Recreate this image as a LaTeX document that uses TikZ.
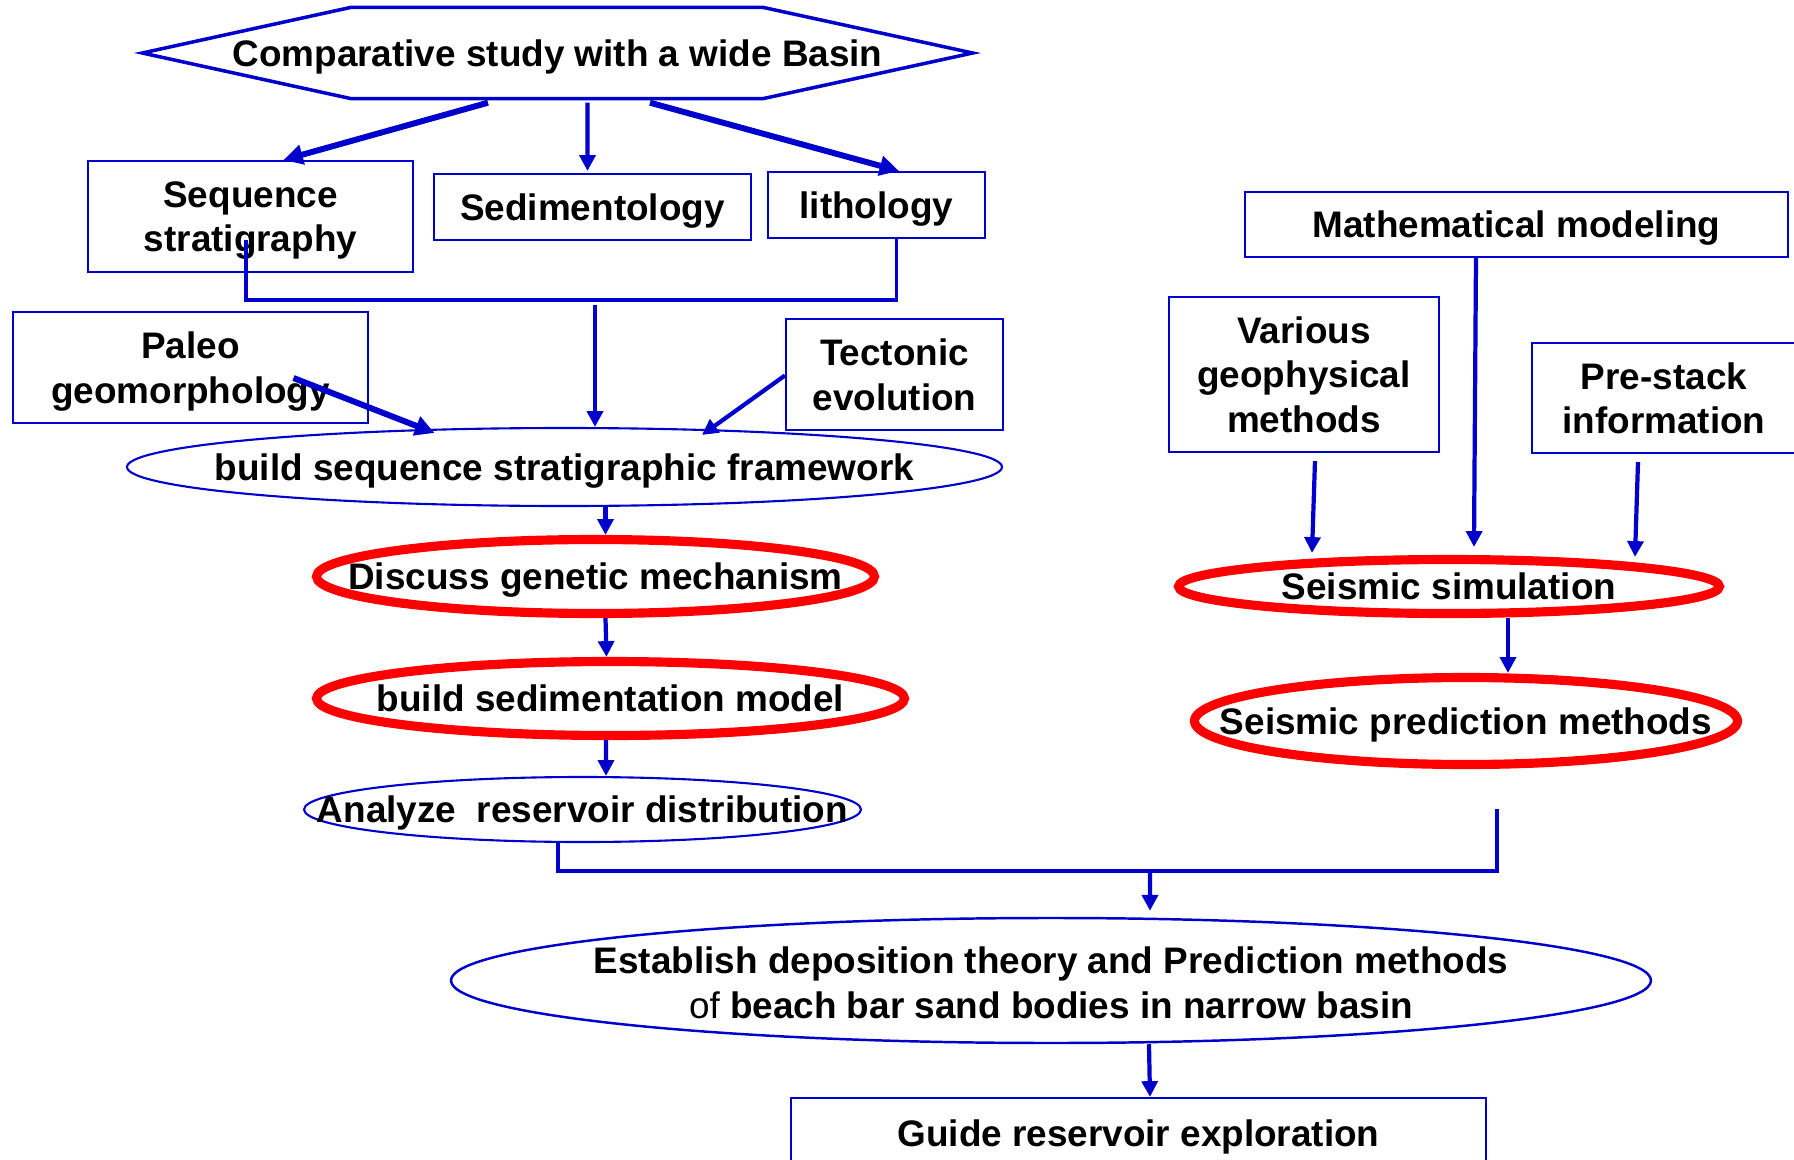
\documentclass[tikz,border=0pt]{standalone}
\usepackage{fontspec}
\setmainfont{Liberation Sans}
\usetikzlibrary{shapes.geometric,arrows.meta}
\definecolor{flowblue}{RGB}{0,0,205}
\definecolor{flowred}{RGB}{255,0,0}
\tikzset{
  box/.style={draw=flowblue,line width=0.6pt,inner sep=0pt,align=center,text depth=0pt},
  oval/.style={ellipse,draw=flowblue,line width=0.6pt,inner sep=0pt},
  redoval/.style={ellipse,draw=flowred,line width=2.6pt,inner sep=0pt},
  arr/.style={flowblue,line width=1.2pt,-{Triangle[length=4.5pt,width=4.5pt]}},
  fatarr/.style={flowblue,line width=1.7pt,-{Triangle[length=5.5pt,width=5.5pt]}}
}
\begin{document}
\begin{tikzpicture}[font=\fontsize{10.5}{12.6}\selectfont\bfseries,every label/.append style={text depth=0pt}]
                \useasboundingbox (0,0) rectangle (17.94,-11.6);

                \node[minimum width=8.29cm,minimum height=0.9cm,inner sep=0pt,text depth=0pt] (hex) at (5.575,-0.53) {Comparative study with a wide Basin};
                \draw[flowblue,line width=1pt] (hex.west) -- ([xshift=2.09cm]hex.north west) -- ([xshift=-2.1cm]hex.north east) -- (hex.east)
                    -- ([xshift=-2.1cm]hex.south east) -- ([xshift=2.09cm]hex.south west) -- cycle;

                \node[box,minimum width=3.25cm,minimum height=1.11cm] (seqstrat) at (2.505,-2.165) {Sequence\\stratigraphy};
                \node[box,minimum width=3.17cm,minimum height=0.66cm] (sedim) at (5.925,-2.07) {Sedimentology};
                \node[box,minimum width=2.17cm,minimum height=0.66cm] (litho) at (8.765,-2.05) {lithology};
                \node[box,minimum width=3.55cm,minimum height=1.11cm] (paleo) at (1.905,-3.675) {Paleo\\geomorphology};
                \node[box,minimum width=2.17cm,minimum height=1.11cm] (tecto) at (8.945,-3.745) {Tectonic\\evolution};

                \node[oval,minimum width=8.75cm,minimum height=0.78cm,label={center:build sequence stratigraphic framework}] (frame) at (5.645,-4.67) {};
                \node[redoval,minimum width=5.58cm,minimum height=0.74cm,label={center:Discuss genetic mechanism}] (genetic) at (5.955,-5.765) {};
                \node[redoval,minimum width=5.88cm,minimum height=0.74cm,label={center:build sedimentation model}] (sedmodel) at (6.105,-6.985) {};
                \node[oval,minimum width=5.57cm,minimum height=0.65cm,label={center:Analyze\ \ reservoir distribution}] (analyze) at (5.825,-8.095) {};

                \node[box,minimum width=5.43cm,minimum height=0.65cm] (math) at (15.165,-2.245) {Mathematical modeling};
                \node[box,minimum width=2.7cm,minimum height=1.55cm] (various) at (13.04,-3.745) {Various\\geophysical\\methods};
                \node[box,minimum width=2.64cm,minimum height=1.1cm] (prestack) at (16.64,-3.98) {Pre-stack\\information};

                \node[redoval,minimum width=5.41cm,minimum height=0.54cm,label={center:Seismic simulation}] (seissim) at (14.49,-5.865) {};
                \node[redoval,minimum width=5.43cm,minimum height=0.87cm,label={center:Seismic prediction methods}] (seispred) at (14.66,-7.21) {};

                \node[oval,line width=0.7pt,minimum width=12cm,minimum height=1.25cm,
                    label={[align=center,yshift=-0.02cm]center:Establish deposition theory and Prediction methods\\{\mdseries of} beach bar sand bodies in narrow basin}] (establish) at (10.51,-9.805) {};
                \node[box,minimum width=6.95cm,minimum height=0.7cm] (guide) at (11.385,-11.33) {Guide reservoir exploration};

                \draw[fatarr] ([xshift=-0.695cm,yshift=-0.04cm]hex.south) -- ([xshift=0.33cm]seqstrat.north);
                \draw[arr] ([xshift=0.3cm,yshift=-0.04cm]hex.south) -- ([xshift=-0.05cm,yshift=0.02cm]sedim.north);
                \draw[fatarr] ([xshift=0.925cm,yshift=-0.04cm]hex.south) -- ([xshift=0.225cm]litho.north);

                \coordinate (upjoin) at (5.95,-3.0);
                \draw[flowblue,line width=1pt] ([xshift=-0.045cm,yshift=-0.235cm]seqstrat.center) |- (upjoin) -| ([xshift=0.2cm]litho.south);
                \draw[arr] ([yshift=-0.05cm]upjoin) -- (upjoin |- frame.north);
                \draw[fatarr] ([xshift=1.03cm,yshift=-0.105cm]paleo.center) -- ([xshift=-1.3cm,yshift=-0.06cm]frame.north);
                \draw[arr] ([yshift=-0.01cm]tecto.west) -- ([xshift=1.375cm,yshift=-0.08cm]frame.north);

                \draw[arr] ([xshift=0.41cm]frame.south) -- ([xshift=0.1cm]genetic.north);
                \draw[arr] ([xshift=0.1cm]genetic.south) -- ([xshift=-0.04cm]sedmodel.north);
                \draw[arr] ([xshift=-0.045cm]sedmodel.south) -- ([xshift=0.235cm]analyze.north);

                \draw[arr] ([xshift=0.11cm,yshift=-0.08cm]various.south) -- ([xshift=-1.37cm,yshift=0.02cm]seissim.north);
                \draw[arr] ([xshift=-0.405cm]math.south) -- ([xshift=0.25cm,yshift=0.08cm]seissim.north);
                \draw[arr] ([xshift=-0.26cm,yshift=-0.08cm]prestack.south) -- ([xshift=1.86cm,yshift=-0.02cm]seissim.north);
                \draw[arr] ([xshift=0.59cm]seissim.south) -- ([xshift=0.42cm]seispred.north);

                \coordinate (predout) at ([xshift=0.31cm,yshift=-0.4cm]seispred.south);
                \coordinate (merge) at (11.5,-8.71);
                \draw[flowblue,line width=1.4pt] ([xshift=-0.245cm]analyze.south) |- (merge) -| (predout);
                \draw[arr] (merge) -- ([xshift=0.99cm,yshift=0.06cm]establish.north);
                \draw[arr] ([xshift=0.98cm]establish.south) -- ([xshift=0.115cm]guide.north);
            \end{tikzpicture}
\end{document}
